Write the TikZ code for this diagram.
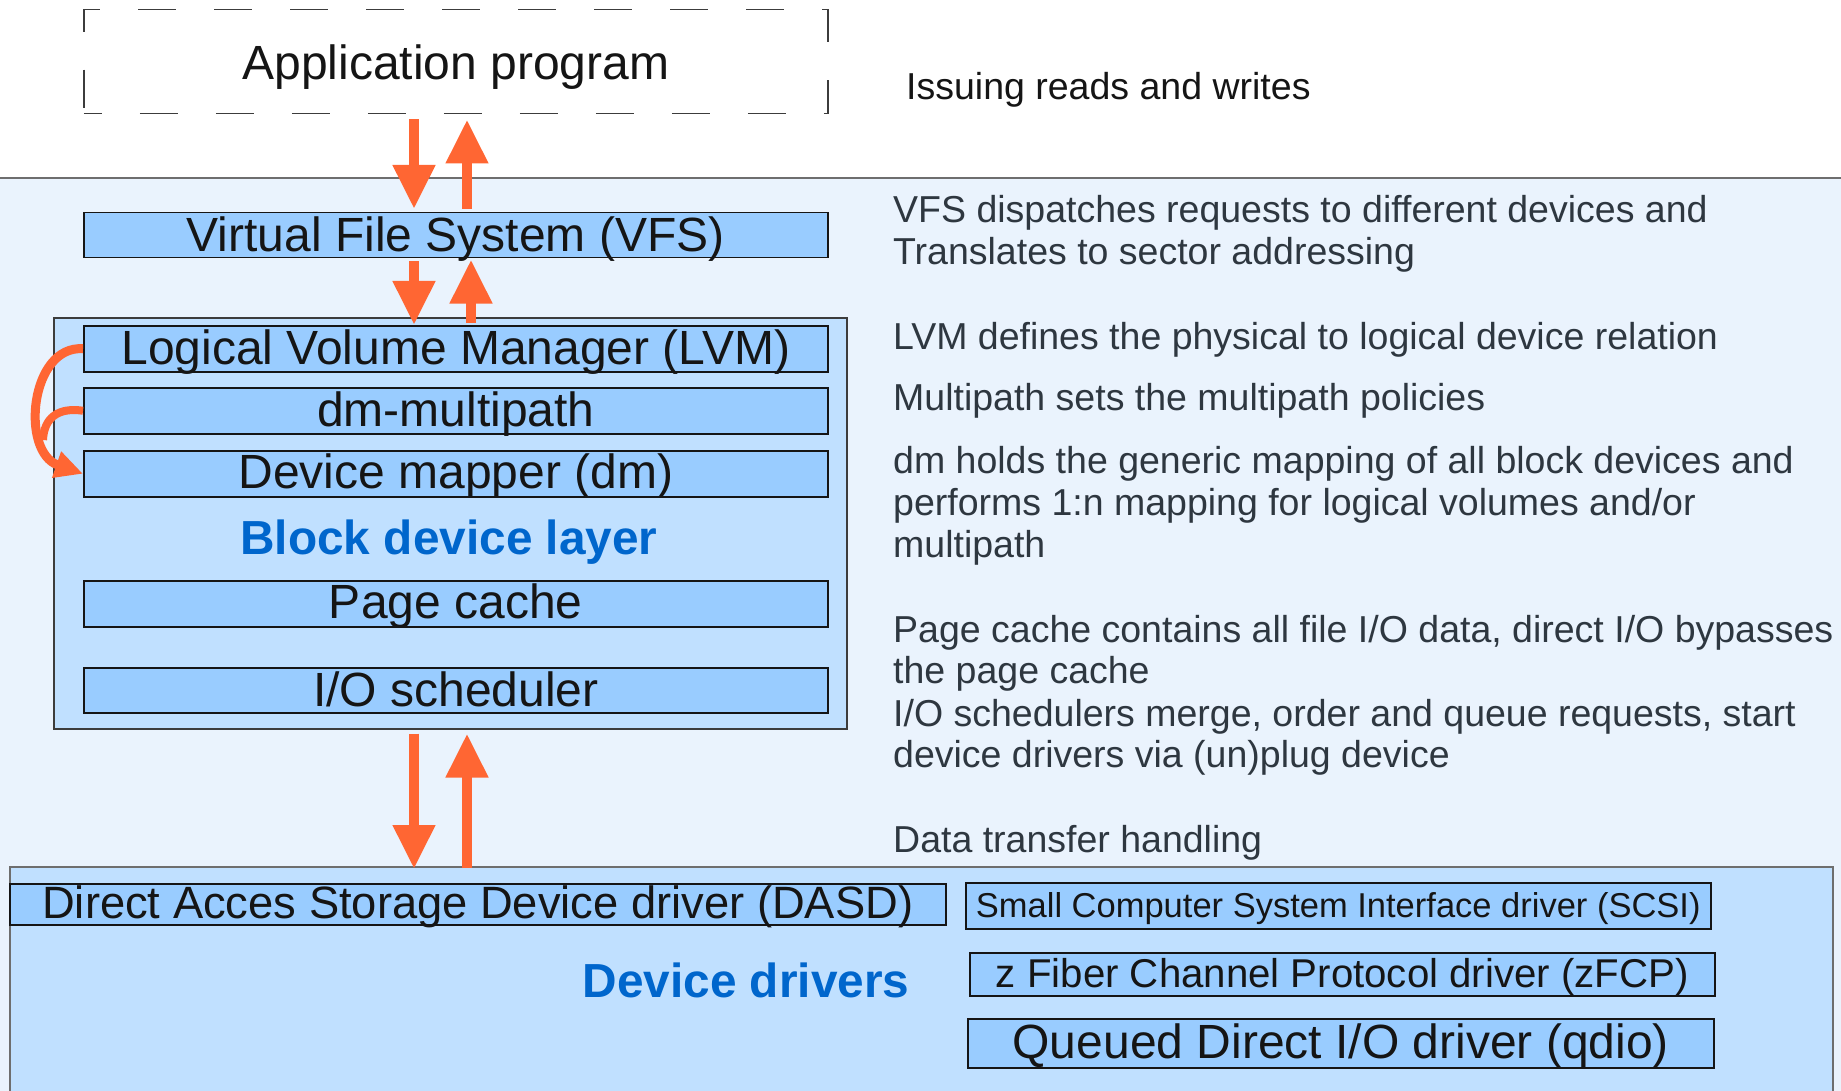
\documentclass[tikz,border=0pt]{standalone}
\usepackage{fontspec}
\setmainfont{Liberation Sans}
\usetikzlibrary{arrows.meta}

\definecolor{paneblue}{HTML}{EAF3FD}
\definecolor{layerblue}{HTML}{C0E0FF}
\definecolor{boxblue}{HTML}{99CCFF}
\definecolor{flow}{HTML}{FF6633}
\definecolor{headblue}{HTML}{0066CC}
\definecolor{notegray}{HTML}{2E3740}
\definecolor{inkblack}{HTML}{151515}
\definecolor{rulegray}{HTML}{6E6E6E}
\definecolor{edgegray}{HTML}{3C3C3C}

\tikzset{
  compbox/.style={draw=inkblack, line width=1.5pt, fill=boxblue, inner sep=0pt,
    anchor=north west, text=inkblack, font=\fontsize{48}{55}\selectfont},
  layerframe/.style={draw=edgegray, line width=1.5pt, fill=layerblue, inner sep=0pt,
    anchor=north west},
  headline/.style={font=\bfseries\fontsize{47.8}{55}\selectfont, text=headblue,
    anchor=base, inner sep=0pt},
  note/.style={font=\fontsize{37.5}{42}\selectfont, text=notegray,
    anchor=base west, inner sep=0pt},
  flowarrow/.style={draw=flow, line width=10.5pt,
    -{Triangle[width=40pt,length=44pt]}},
  mapflow/.style={draw=flow, line width=9pt},
}

\begin{document}
\begin{tikzpicture}[x=1pt,y=-1pt]
  % canvas
  \path[use as bounding box] (0,0) rectangle (1841,1091);
  \clip (0,0) rectangle (1841,1091);
  \fill[white] (0,0) rectangle (1841,178);
  \fill[paneblue] (0,178) rectangle (1841,1091);
  \draw[rulegray, line width=2pt] (0,178) -- (1841,178);

  % user space
  \node[draw=edgegray, line width=1.5pt, dash pattern=on 38pt off 38pt,
        dash phase=20pt, inner sep=0pt, anchor=north west,
        minimum width=744pt, minimum height=104pt,
        text height=69.3pt, text depth=34.7pt, text=inkblack,
        font=\fontsize{48}{55}\selectfont] (app) at (83,9) {Application program};
  \node[anchor=base west, inner sep=0pt, text=inkblack,
        font=\fontsize{37.5}{42}\selectfont] (issue) at (906,100) {Issuing reads and writes};

  % kernel: VFS
  \node[compbox, minimum width=744pt, minimum height=45pt,
        text height=38.7pt, text depth=6.3pt] (vfs) at (83,212) {Virtual File System (VFS)};

  % block device layer
  \node[layerframe, minimum width=793pt, minimum height=411pt] (blk) at (53,317) {};
  \node[compbox, minimum width=744pt, minimum height=46pt,
        text height=38.3pt, text depth=7.7pt] (lvm) at (83,325) {Logical Volume Manager (LVM)};
  \node[compbox, minimum width=744pt, minimum height=46pt,
        text height=39pt, text depth=7pt] (mpath) at (83,387) {dm-multipath};
  \node[compbox, minimum width=744pt, minimum height=46pt,
        text height=38pt, text depth=8pt] (dmap) at (83,450) {Device mapper (dm)};
  \node[headline] (blklabel) at (449,554) {Block device layer};
  \node[compbox, minimum width=744pt, minimum height=46pt,
        text height=38pt, text depth=8pt] (pcache) at (83,580) {Page cache};
  \node[compbox, minimum width=744pt, minimum height=45pt,
        text height=39pt, text depth=6pt] (iosched) at (83,667) {I/O scheduler};

  % device drivers
  \node[layerframe, draw=rulegray, minimum width=1823pt, minimum height=240pt] (drv) at (9,866) {};
  \node[compbox, minimum width=936pt, minimum height=41pt,
        text height=35pt, text depth=6pt, font=\fontsize{45.3}{52}\selectfont] (dasd) at (9,883)
        {Direct Acces Storage Device driver (DASD)};
  \node[compbox, minimum width=745pt, minimum height=46pt,
        text height=35pt, text depth=11pt, font=\fontsize{34.5}{40}\selectfont] (scsi) at (965,882)
        {Small Computer System Interface driver (SCSI)};
  \node[compbox, minimum width=745pt, minimum height=43pt,
        text height=35pt, text depth=8pt, font=\fontsize{40.2}{46}\selectfont] (zfcp) at (969,952)
        {z Fiber Channel Protocol driver (zFCP)};
  \node[compbox, minimum width=746pt, minimum height=49pt,
        text height=40pt, text depth=9pt] (qdio) at (967,1018)
        {Queued Direct I/O driver (qdio)};
  \node[headline] (drvlabel) at (746,997) {Device drivers};

  % request flow
  \coordinate (dnx) at (414,0);
  \coordinate (upx) at (467,0);
  \coordinate (upy) at (471,0);
  \draw[flowarrow, shorten <=5pt, shorten >=3pt] (app.south -| dnx) -- (vfs.north -| dnx);
  \draw[flowarrow, shorten <=3pt, shorten >=5pt] (vfs.north -| upx) -- (app.south -| upx);
  \draw[flowarrow, shorten <=3pt] (vfs.south -| dnx) -- (lvm.north -| dnx);
  \draw[flowarrow, shorten <=2pt, shorten >=1pt] (lvm.north -| upy) -- (vfs.south -| upy);
  \draw[flowarrow, shorten <=4pt, shorten >=14pt] (blk.south -| dnx) -- (dasd.north -| dnx);
  \draw[flowarrow, shorten <=15pt, shorten >=4pt] (dasd.north -| upx) -- (blk.south -| upx);

  % mapping from LVM and multipath down to the device mapper
  \draw[mapflow, line width=8pt] (mpath.west) .. controls (58,407) and (44,418) .. (43,440);
  \draw[mapflow, -{Triangle[width=26pt,length=28pt]}]
    (lvm.west) .. controls (30,345) and (20,452) .. (dmap.west);

  % explanations
  \node[note] (vfsa) at (893,223) {VFS dispatches requests to different devices and};
  \node[note] (vfsb) at (893,265) {Translates to sector addressing};
  \node[note] (lvmn) at (893,349) {LVM defines the physical to logical device relation};
  \node[note] (mpn) at (893,410.5) {Multipath sets the multipath policies};
  \node[note] (dma) at (893,473) {dm holds the generic mapping of all block devices and};
  \node[note] (dmb) at (893,515) {performs 1:n mapping for logical volumes and/or};
  \node[note] (dmc) at (893,557) {multipath};
  \node[note] (pca) at (893,642) {Page cache contains all file I/O data, direct I/O bypasses};
  \node[note] (pcb) at (893,683) {the page cache};
  \node[note] (ioa) at (893,726) {I/O schedulers merge, order and queue requests, start};
  \node[note] (iob) at (893,767) {device drivers via (un)plug device};
  \node[note] (dtn) at (893,852) {Data transfer handling};
\end{tikzpicture}
\end{document}
